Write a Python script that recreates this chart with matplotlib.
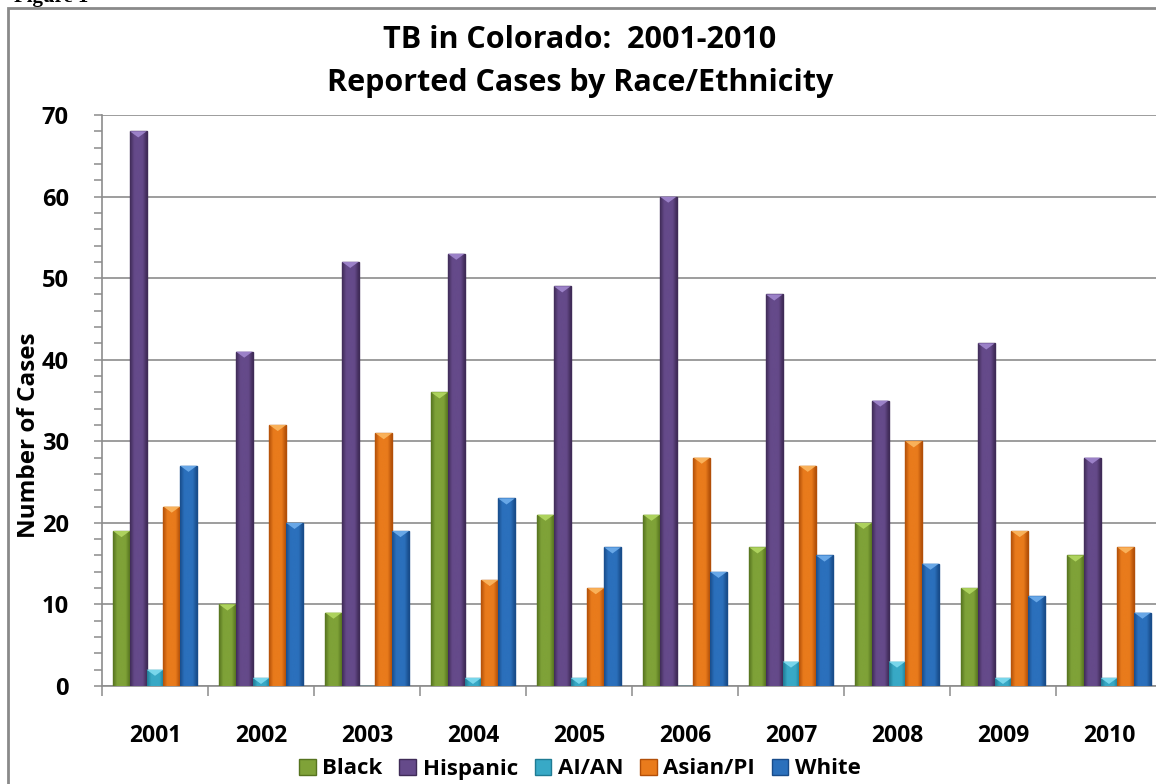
import matplotlib
matplotlib.use("Agg")
import matplotlib.pyplot as plt
import numpy as np
from matplotlib.patches import Rectangle, Patch, Polygon
from matplotlib.colors import LinearSegmentedColormap

plt.rcParams['font.family'] = ['Open Sans', 'DejaVu Sans']

years = ['2001', '2002', '2003', '2004', '2005', '2006', '2007', '2008', '2009', '2010']
series_names = ['Black', 'Hispanic', 'AI/AN', 'Asian/PI', 'White']
black = [19, 10, 9, 36, 21, 21, 17, 20, 12, 16]
hispanic = [68, 41, 52, 53, 49, 60, 48, 35, 42, 28]
aian = [2, 1, 0, 1, 1, 0, 3, 3, 1, 1]
asian = [22, 32, 31, 13, 12, 28, 27, 30, 19, 17]
white = [27, 20, 19, 23, 17, 14, 16, 15, 11, 9]
yticks = [0, 10, 20, 30, 40, 50, 60, 70]

values = [black, hispanic, aian, asian, white]
# (dark edge, mid, cap highlight)
palette = [
    ('#56731f', '#7fa238', '#b3d862'),
    ('#3f2b57', '#654a8a', '#a288cf'),
    ('#1f7b93', '#38a9c6', '#80dcf0'),
    ('#b24f08', '#e97b1c', '#fbb862'),
    ('#184c8a', '#2b70bc', '#6faeec'),
]

W, H = 1156, 784
fig = plt.figure(figsize=(W / 100, H / 100), dpi=100)
fig.patch.set_facecolor('white')

# outer border of the chart object
fig.add_artist(Rectangle((8 / W, -0.1), 1.2, 1 - 8 / H + 0.1, transform=fig.transFigure,
                         fill=False, edgecolor='#8a8a8a', linewidth=2))
# clipped figure caption at the very top
fig.text(14 / W, 1 - 2 / H, 'Figure 1', fontsize=15, fontweight='bold',
         family='Liberation Serif', ha='left', va='baseline')

ax_left, ax_right, ax_top, ax_bot = 102, 1162, 115, 686
ax = fig.add_axes([ax_left / W, 1 - ax_bot / H, (ax_right - ax_left) / W, (ax_bot - ax_top) / H])
ax.set_facecolor('none')

x = np.arange(len(years))
bw = 0.158

cap = 0.75  # height of the cap highlight in data units
for i, (vals, (dark, mid, light)) in enumerate(zip(values, palette)):
    cmap = LinearSegmentedColormap.from_list('c%d' % i, [dark, mid, mid, mid, dark])
    bars = ax.bar(x + (i - 2) * bw, vals, width=bw, color=mid, edgecolor=dark,
                  linewidth=1.0, zorder=3)
    grad = np.linspace(0, 1, 64).reshape(1, -1)
    for b in bars:
        h = b.get_height()
        if h <= 0:
            continue
        x0, w = b.get_x(), b.get_width()
        im = ax.imshow(grad, cmap=cmap, extent=[x0, x0 + w, 0, h], aspect='auto',
                       zorder=3.5, interpolation='bicubic')
        im.set_clip_path(b)
        c = min(cap, h)
        tri = Polygon([[x0, h], [x0 + w, h], [x0 + w / 2, h - c]], closed=True,
                      facecolor=light, edgecolor='none', zorder=4, alpha=0.9)
        ax.add_patch(tri)
ax.set_xlim(-0.5, len(years) - 0.5)
ax.set_ylim(0, 70)

# grid
ax.set_yticks(yticks)
ax.set_yticks(np.arange(0, 71, 2), minor=True)
ax.yaxis.grid(True, which='major', color='#8c8c8c', linewidth=1.2, zorder=0)
ax.set_axisbelow(True)

ax.set_xticks(x)
ax.set_xticklabels(years)
ax.set_xticks(np.arange(-0.5, len(years), 1), minor=True)

for s in ['top', 'right']:
    ax.spines[s].set_visible(False)
for s in ['left', 'bottom']:
    ax.spines[s].set_color('#8c8c8c')
    ax.spines[s].set_linewidth(1.2)

ax.tick_params(axis='y', which='both', direction='out', length=6, width=1.1,
               color='#8c8c8c', labelsize=17, pad=18)
ax.tick_params(axis='x', which='major', length=0, labelsize=16.5, pad=27)
ax.tick_params(axis='x', which='minor', direction='out', length=7, width=1.1, color='#8c8c8c')
for lab in ax.get_xticklabels() + ax.get_yticklabels():
    lab.set_fontweight('bold')

fig.text(29 / W, 1 - 435 / H, 'Number of Cases', rotation=90, fontsize=17.5,
         fontweight='bold', ha='center', va='center')

fig.text(580 / W, 1 - 40 / H, 'TB in Colorado:  2001-2010', fontsize=22,
         fontweight='bold', ha='center', va='center')
fig.text(580 / W, 1 - 83 / H, 'Reported Cases by Race/Ethnicity', fontsize=22,
         fontweight='bold', ha='center', va='center')

handles = [Patch(facecolor=p[1], edgecolor=p[0], label=n) for n, p in zip(series_names, palette)]
leg = fig.legend(handles=handles, loc='center', bbox_to_anchor=(580 / W, 1 - 769 / H),
                 ncol=5, frameon=False, fontsize=16, handlelength=0.75, handleheight=0.75,
                 handletextpad=0.3, columnspacing=0.75, borderaxespad=0)
for t in leg.get_texts():
    t.set_fontweight('bold')

fig.savefig('out.png', dpi=100, facecolor='white')
